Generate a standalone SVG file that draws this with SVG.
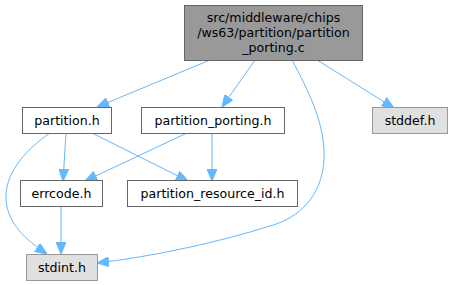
<svg xmlns="http://www.w3.org/2000/svg" width="452" height="285" viewBox="0 0 452 285">
<style>
text{font-family:"DejaVu Sans","Liberation Sans",sans-serif;font-size:12.6px;fill:#000;text-anchor:middle}
.n rect{fill:#fff;stroke:#666;stroke-width:1}
.ext rect{fill:#e0e0e0;stroke:#999;stroke-width:1}
.top rect{fill:#999;stroke:#666;stroke-width:1}
.e path{fill:none;stroke:#63b8ff;stroke-width:1;marker-end:url(#ah)}
</style>
<defs>
<marker id="ah" markerUnits="userSpaceOnUse" markerWidth="12" markerHeight="10" viewBox="0 0 11 9" refX="11" refY="4.5" orient="auto">
<path d="M0,0 L11,4.5 L0,9 Z" fill="#63b8ff" stroke="#63b8ff"/>
</marker>
</defs>
<g id="edges" class="e">
<path d="M210,60 L97,107"/>
<path d="M255,60 L222,107"/>
<path d="M292,60 C308,90 326,125 324,160 C322,195 300,218 270,226 C220,242 150,257 97,263"/>
<path d="M317,60 L394,108"/>
<path d="M66,133 L63,181"/>
<path d="M92,133 L188,181"/>
<path d="M50,133 C28,148 7,170 6,195 C5,222 26,240 47,254"/>
<path d="M187,133 L85,181"/>
<path d="M212,133 L212,181"/>
<path d="M61,206 L61,254"/>
</g>
<g id="node_top" class="top">
<rect x="184.5" y="5.5" width="178" height="55"/>
<text x="273.5" y="22">src/middleware/chips</text>
<text x="273.5" y="37">/ws63/partition/partition</text>
<text x="273.5" y="52">_porting.c</text>
</g>
<g id="node_partition_h" class="n">
<rect x="22.5" y="107.5" width="89" height="26"/>
<text x="67" y="125">partition.h</text>
</g>
<g id="node_partition_porting_h" class="n">
<rect x="141.5" y="107.5" width="143" height="26"/>
<text x="213" y="125">partition_porting.h</text>
</g>
<g id="node_stddef_h" class="ext">
<rect x="372.5" y="107.5" width="75" height="26"/>
<text x="410" y="125">stddef.h</text>
</g>
<g id="node_errcode_h" class="n">
<rect x="20.5" y="180.5" width="82" height="26"/>
<text x="61.5" y="198">errcode.h</text>
</g>
<g id="node_partition_resource_id_h" class="n">
<rect x="127.5" y="180.5" width="170" height="26"/>
<text x="212.5" y="198">partition_resource_id.h</text>
</g>
<g id="node_stdint_h" class="ext">
<rect x="26.5" y="254.5" width="71" height="26"/>
<text x="62" y="272">stdint.h</text>
</g>
</svg>
